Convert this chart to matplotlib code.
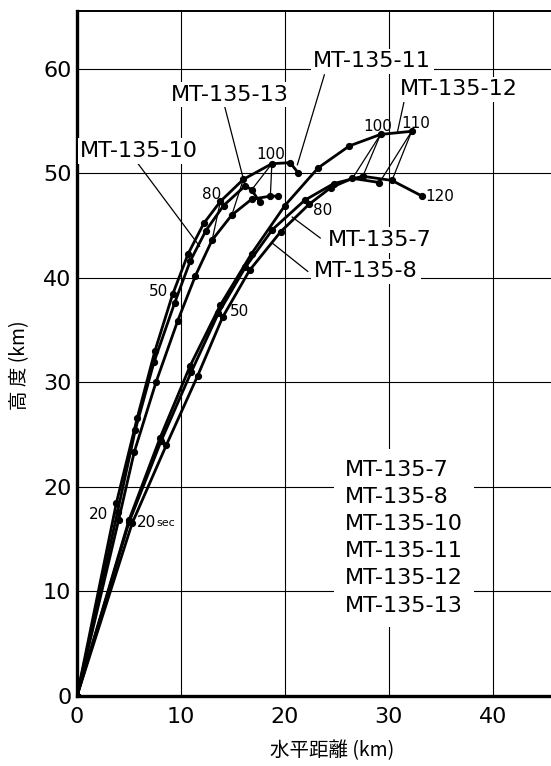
import matplotlib
matplotlib.use("Agg")
import matplotlib.pyplot as plt

# trajectories: horizontal distance (km) / altitude (km), one dot every 10 s
mt7_x = [0, 5.0, 8.1, 11.0, 13.6, 16.2, 18.8, 21.9, 24.7, 27.5, 30.3, 33.2]
mt7_y = [0, 16.6, 24.4, 31.0, 36.6, 41.0, 44.6, 47.4, 49.0, 49.7, 49.3, 47.8]
mt8_x = [0, 5.3, 8.6, 11.6, 14.0, 16.6, 19.6, 22.3, 24.4, 26.5, 29.1]
mt8_y = [0, 16.5, 24.0, 30.6, 36.2, 40.7, 44.4, 47.0, 48.6, 49.5, 49.1]
mt12_x = [0, 5.0, 8.0, 10.9, 13.8, 16.8, 20.0, 23.2, 26.2, 29.2, 32.2]
mt12_y = [0, 16.8, 24.7, 31.6, 37.4, 42.3, 46.9, 50.5, 52.6, 53.7, 54.0]
mt10_x = [0, 4.0, 5.5, 7.6, 9.7, 11.4, 13.0, 14.9, 16.8, 18.6, 19.3]
mt10_y = [0, 16.8, 23.3, 30.0, 35.9, 40.2, 43.6, 46.0, 47.5, 47.8, 47.8]
mt11_x = [0, 3.8, 5.8, 7.5, 9.2, 10.7, 12.2, 13.8, 16.0, 18.75, 20.5, 21.3]
mt11_y = [0, 18.5, 26.6, 33.0, 38.4, 42.3, 45.2, 47.3, 49.4, 50.9, 51.0, 50.0]
mt13_x = [0, 3.9, 5.6, 7.4, 9.4, 10.9, 12.4, 14.1, 16.2, 16.8, 17.6]
mt13_y = [0, 17.6, 25.4, 31.9, 37.6, 41.6, 44.5, 46.9, 48.8, 48.4, 47.2]

names = ["MT-135-7", "MT-135-8", "MT-135-10", "MT-135-11", "MT-135-12", "MT-135-13"]

# same-time tie lines (pairs of points)
ties = [
    ((29.2, 53.7), (26.5, 49.5)), ((29.2, 53.7), (27.5, 49.7)),
    ((32.2, 54.0), (29.1, 49.1)), ((32.2, 54.0), (30.3, 49.3)),
    ((18.75, 50.9), (16.8, 48.4)), ((18.75, 50.9), (18.6, 47.8)),
    ((16.0, 49.4), (14.9, 46.0)), ((13.8, 47.3), (13.0, 43.6)),
]

fig = plt.figure(figsize=(5.51, 7.66), dpi=100)
ax = fig.add_axes([0.1397, 0.0914, 0.8603, 0.8942])
ax.set_xlim(0, 45.6)
ax.set_ylim(0, 65.5)

ax.set_xticks([0, 10, 20, 30, 40])
ax.set_yticks([0, 10, 20, 30, 40, 50, 60])
ax.tick_params(length=0, labelsize=16)
ax.tick_params(axis="y", pad=4)
ax.tick_params(axis="x", pad=8)
ax.grid(True, color="black", lw=0.8)
ax.set_axisbelow(True)
for s in ["left", "bottom"]:
    ax.spines[s].set_linewidth(2.4)
ax.spines["top"].set_linewidth(1.4)
ax.spines["right"].set_visible(False)

for xs, ys in [(mt7_x, mt7_y), (mt8_x, mt8_y), (mt12_x, mt12_y),
               (mt10_x, mt10_y), (mt11_x, mt11_y), (mt13_x, mt13_y)]:
    ax.plot(xs, ys, color="black", lw=2.0, marker="o", ms=4.2, zorder=3)

for (x0, y0), (x1, y1) in ties:
    ax.plot([x0, x1], [y0, y1], color="black", lw=0.9, zorder=3)

box = dict(facecolor="white", edgecolor="none", pad=2)
labels = {
    "MT-135-11": ((28.4, 60.7), (23.8, 59.4), (21.2, 50.8)),
    "MT-135-13": ((14.7, 57.5), (14.2, 56.4), (16.2, 48.7)),
    "MT-135-12": ((36.7, 58.0), (31.5, 57.0), (30.8, 53.8)),
    "MT-135-10": ((6.0, 52.1), (5.8, 51.0), (11.8, 43.0)),
    "MT-135-7": ((29.1, 43.6), (23.4, 43.8), (20.7, 45.8)),
    "MT-135-8": ((27.8, 40.6), (22.2, 40.6), (18.8, 43.3)),
}
for name, (pos, p0, p1) in labels.items():
    ax.plot([p0[0], p1[0]], [p0[1], p1[1]], color="black", lw=0.9, zorder=4)
    ax.text(pos[0], pos[1], name, fontsize=16, ha="center", va="center",
            bbox=box, zorder=5)

# elapsed-time marks (s)
times = [("20", 2.1, 17.4), ("50", 7.8, 38.7), ("50", 15.6, 36.8),
         ("80", 13.0, 48.0), ("100", 18.6, 51.8), ("80", 23.6, 46.4),
         ("100", 28.9, 54.5), ("110", 32.6, 54.7), ("120", 34.9, 47.8)]
for s, tx, ty in times:
    ax.text(tx, ty, s, fontsize=11, ha="center", va="center", zorder=5)
ax.text(5.8, 16.6, "20", fontsize=11, ha="left", va="center", zorder=5)
ax.text(7.6, 16.5, "sec", fontsize=8, ha="left", va="center", zorder=5)

ax.text(25.8, 22.6, "\n".join(names), fontsize=16, ha="left", va="top",
        linespacing=1.45, bbox=dict(facecolor="white", edgecolor="none", pad=8),
        zorder=5)

cjk = ["Noto Sans CJK JP", "DejaVu Sans"]
ax.set_ylabel("高 度 (km)", family=cjk, fontsize=14)
ax.set_xlabel("水平距離 (km)", family=cjk, fontsize=14)
ax.yaxis.set_label_coords(-0.099, 0.483)
ax.xaxis.set_label_coords(0.538, -0.064)

fig.savefig("out.png", dpi=100)
